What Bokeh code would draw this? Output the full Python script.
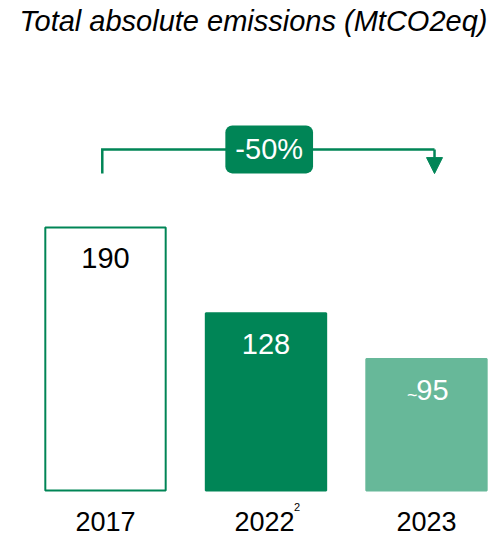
from bokeh.plotting import figure
from bokeh.models import ColumnDataSource, Range1d, Label, Arrow, NormalHead
from bokeh.core.properties import value
from bokeh.embed import file_html
from bokeh.resources import INLINE

# ---- data ----
categories = ["2017", "2022", "2023"]
footnotes = ["", "2", ""]
values = [190, 128, 95]
value_prefix = ["", "", "~"]
title_text = "Total absolute emissions (MtCO2eq)"

DARK = "#008556"
LIGHT = "#67B899"
FONT = "Liberation Sans"

fill_colors = ["#FFFFFF", DARK, LIGHT]
line_colors = [DARK, DARK, LIGHT]
label_colors = ["#000000", "#FFFFFF", "#FFFFFF"]

xs = list(range(len(categories)))
src = ColumnDataSource(dict(
    x=xs, top=values, cat=categories, foot=footnotes,
    vlabel=[str(v) for v in values], prefix=value_prefix,
    fill=fill_colors, line=line_colors, lcol=label_colors,
    voff=[6 if p else 0 for p in value_prefix],
    poff=[-9 if p else 0 for p in value_prefix],
    coff=[-1.5 if f else 0 for f in footnotes],
))

W, H = 493, 536
p = figure(width=W, height=H, output_backend="svg", toolbar_location=None,
           x_range=Range1d(-0.6542, 2.4175), y_range=Range1d(-33.2, 354.0),
           x_axis_location=None, y_axis_location=None, min_border=0)
p.grid.visible = False
p.outline_line_color = None
p.background_fill_color = "white"

p.vbar(x="x", top="top", bottom=0, width=0.75, source=src,
       fill_color="fill", line_color="line", line_width=2)

# value labels inside bars
p.text(x="x", y="top", text="vlabel", source=src, text_color="lcol",
       text_font=value(FONT), text_font_size="29px", text_align="center",
       text_baseline="middle", y_offset=30.5, x_offset="voff")
p.text(x="x", y="top", text="prefix", source=src, text_color="lcol",
       text_font=value(FONT), text_font_size="18px", text_align="right",
       text_baseline="middle", y_offset=36, x_offset="poff")

# category labels
p.text(x="x", y=0, text="cat", source=src, text_color="#000000",
       text_font=value(FONT), text_font_size="27px", text_align="center",
       text_baseline="middle", y_offset=30.5, x_offset="coff")
p.text(x="x", y=0, text="foot", source=src, text_color="#000000",
       text_font=value(FONT), text_font_size="11px", text_align="left",
       text_baseline="middle", y_offset=16, x_offset=28)

# bracket with arrow
top_val = max(values)
y_hi = top_val * 1.297
y_lo = top_val * 1.205
x_l = xs[0] - 0.02
x_r = xs[-1] + 0.05
p.line(x=[x_l, x_l, x_r], y=[y_lo, y_hi, y_hi], line_color=DARK, line_width=2.5,
       line_join="miter")
p.add_layout(Arrow(x_start=x_r, y_start=y_hi, x_end=x_r, y_end=y_lo,
                   line_color=DARK, line_width=2.5,
                   end=NormalHead(size=16, fill_color=DARK, line_color=DARK, line_width=1)))

change = round((values[-1] / values[0] - 1) * 100)
p.add_layout(Label(x=1.02, y=y_hi, text=f"{change}%", text_color="white",
                   text_font=FONT, text_font_size="29px", text_align="center",
                   text_baseline="middle", background_fill_color=DARK,
                   border_radius=7, padding=(10, 8)))

# title
p.add_layout(Label(x=0.922, y=339.1, text=title_text, text_color="#000000",
                   text_font=FONT, text_font_size="29px", text_font_style="italic",
                   text_align="center", text_baseline="middle"))

open("out.html", "w").write(file_html(p, INLINE))
